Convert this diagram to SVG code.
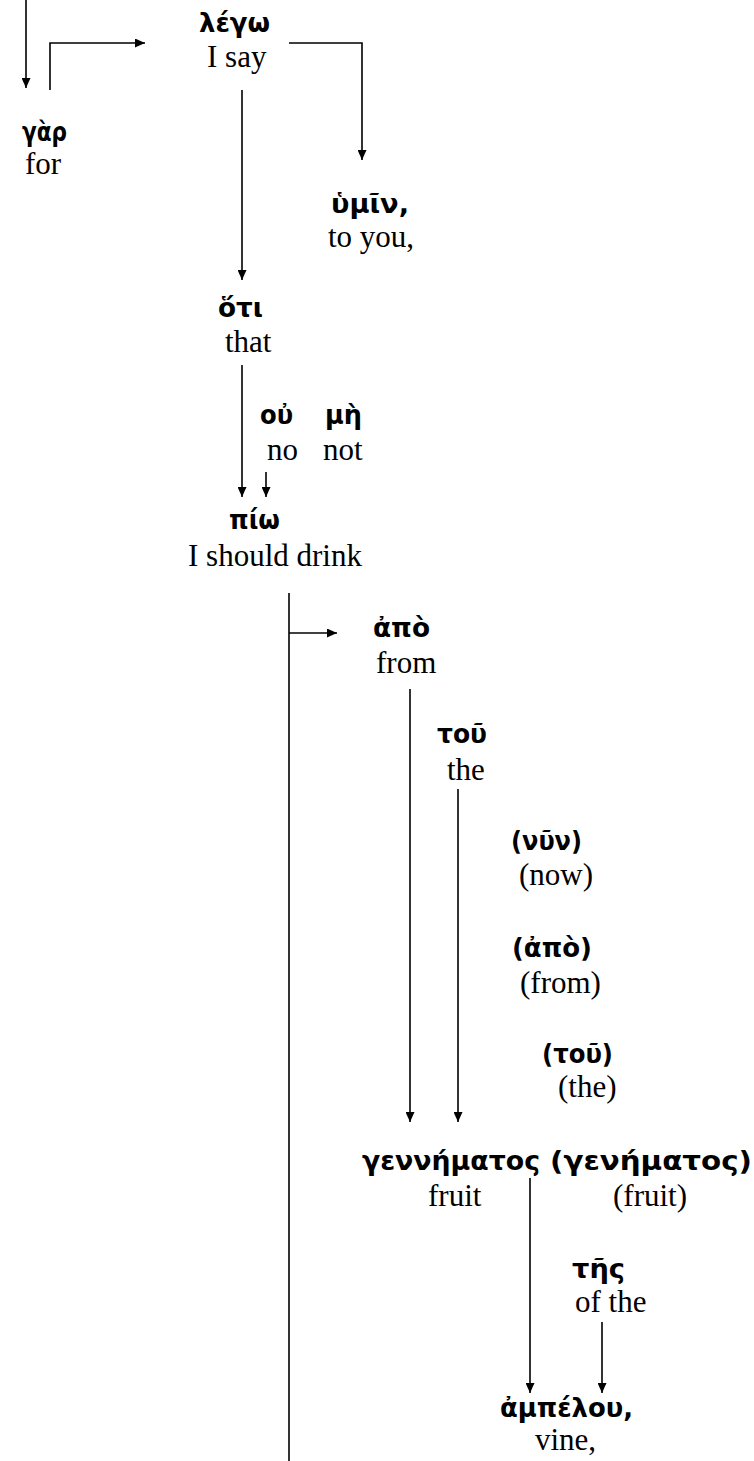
<svg xmlns="http://www.w3.org/2000/svg" width="754" height="1461" viewBox="0 0 754 1461">
<style>
.g{font-family:"DejaVu Sans","Noto Sans",sans-serif;font-weight:bold;font-size:26px;fill:#000}
.e{font-family:"Liberation Serif","Times New Roman",serif;font-size:31px;fill:#000}
.c{fill:none;stroke:#000;stroke-width:1.6}
</style>
<defs>
<marker id="ah" markerUnits="userSpaceOnUse" markerWidth="10" markerHeight="9" refX="10" refY="4.5" orient="auto">
<path d="M0,0 L10,4.5 L0,9 z" fill="#000"/>
</marker>
</defs>
<rect width="754" height="1461" fill="#fff"/>
<g id="connectors">
<path class="c" d="M26,0 V88" marker-end="url(#ah)"/>
<path class="c" d="M50,90 V43 H145" marker-end="url(#ah)"/>
<path class="c" d="M289,43 H362 V160" marker-end="url(#ah)"/>
<path class="c" d="M242,90 V280" marker-end="url(#ah)"/>
<path class="c" d="M242,365 V497" marker-end="url(#ah)"/>
<path class="c" d="M266,472 V497" marker-end="url(#ah)"/>
<path class="c" d="M289,593 V1461"/>
<path class="c" d="M289,633 H337" marker-end="url(#ah)"/>
<path class="c" d="M410,689 V1122" marker-end="url(#ah)"/>
<path class="c" d="M458,789 V1122" marker-end="url(#ah)"/>
<path class="c" d="M530,1178 V1393" marker-end="url(#ah)"/>
<path class="c" d="M602,1322 V1393" marker-end="url(#ah)"/>
</g>
<g id="n-lego"><text class="g" x="199" y="32" textLength="71" lengthAdjust="spacingAndGlyphs">λέγω</text><text class="e" x="207" y="67">I say</text></g>
<g id="n-gar"><text class="g" x="22" y="141" textLength="45" lengthAdjust="spacingAndGlyphs">γὰρ</text><text class="e" x="25" y="174">for</text></g>
<g id="n-humin"><text class="g" x="331" y="213" textLength="78" lengthAdjust="spacingAndGlyphs">ὑμῖν,</text><text class="e" x="328" y="247">to you,</text></g>
<g id="n-hoti"><text class="g" x="218" y="317" textLength="45" lengthAdjust="spacingAndGlyphs">ὅτι</text><text class="e" x="225" y="352">that</text></g>
<g id="n-ou"><text class="g" x="260" y="424" textLength="33" lengthAdjust="spacingAndGlyphs">οὐ</text><text class="e" x="267" y="460">no</text></g>
<g id="n-me"><text class="g" x="325" y="424" textLength="37" lengthAdjust="spacingAndGlyphs">μὴ</text><text class="e" x="323" y="460">not</text></g>
<g id="n-pio"><text class="g" x="229" y="529" textLength="51" lengthAdjust="spacingAndGlyphs">πίω</text><text class="e" x="188" y="566">I should drink</text></g>
<g id="n-apo"><text class="g" x="373" y="637" textLength="57" lengthAdjust="spacingAndGlyphs">ἀπὸ</text><text class="e" x="376" y="673">from</text></g>
<g id="n-tou"><text class="g" x="437" y="743" textLength="50" lengthAdjust="spacingAndGlyphs">τοῦ</text><text class="e" x="447" y="780">the</text></g>
<g id="n-nun"><text class="g" x="511" y="850" textLength="71" lengthAdjust="spacingAndGlyphs">(νῦν)</text><text class="e" x="519" y="885">(now)</text></g>
<g id="n-apo2"><text class="g" x="512" y="957" textLength="80" lengthAdjust="spacingAndGlyphs">(ἀπὸ)</text><text class="e" x="520" y="993">(from)</text></g>
<g id="n-tou2"><text class="g" x="542" y="1063" textLength="71" lengthAdjust="spacingAndGlyphs">(τοῦ)</text><text class="e" x="558" y="1097">(the)</text></g>
<g id="n-gennematos"><text class="g" x="362" y="1170" textLength="178" lengthAdjust="spacingAndGlyphs">γεννήματος</text><text class="e" x="428" y="1206">fruit</text></g>
<g id="n-genematos"><text class="g" x="550" y="1170" textLength="202" lengthAdjust="spacingAndGlyphs">(γενήματος)</text><text class="e" x="613" y="1206">(fruit)</text></g>
<g id="n-tes"><text class="g" x="572" y="1278" textLength="53" lengthAdjust="spacingAndGlyphs">τῆς</text><text class="e" x="575" y="1312">of the</text></g>
<g id="n-ampelou"><text class="g" x="500" y="1417" textLength="133" lengthAdjust="spacingAndGlyphs">ἀμπέλου,</text><text class="e" x="535" y="1450">vine,</text></g>
</svg>
